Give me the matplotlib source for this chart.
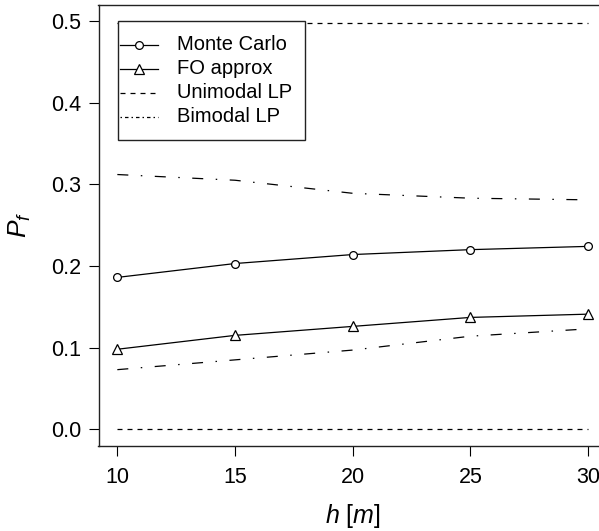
import matplotlib
matplotlib.use("Agg")
import matplotlib.pyplot as plt
from matplotlib.lines import Line2D
from matplotlib.patches import Rectangle

# ---- data ----
h = [10, 15, 20, 25, 30]
monte_carlo = [0.186, 0.203, 0.214, 0.220, 0.224]
fo_approx = [0.098, 0.115, 0.126, 0.137, 0.141]
unimodal_upper = [0.497, 0.497, 0.497, 0.497, 0.497]
unimodal_lower = [0.0, 0.0, 0.0, 0.0, 0.0]
bimodal_upper = [0.312, 0.305, 0.289, 0.283, 0.281]
bimodal_lower = [0.073, 0.085, 0.097, 0.114, 0.123]
x_ticks = [10, 15, 20, 25, 30]
y_ticks = [0.0, 0.1, 0.2, 0.3, 0.4, 0.5]
labels = ["Monte Carlo", "FO approx", "Unimodal LP", "Bimodal LP"]

plt.rcParams['font.family'] = ['Liberation Sans', 'DejaVu Sans']
plt.rcParams['mathtext.fontset'] = 'custom'
plt.rcParams['mathtext.rm'] = 'Liberation Sans'
plt.rcParams['mathtext.it'] = 'Liberation Sans:italic'

W, H = 599, 531
fig = plt.figure(figsize=(W / 100, H / 100), dpi=100)

L, R, T, B = 98.5, 607.0, 4.7, 445.6  # axes box in pixels (from top-left)
ax = fig.add_axes([L / W, 1 - B / H, (R - L) / W, (B - T) / H])

lw = 0.9
ax.plot(h, unimodal_upper, color='black', lw=lw, dashes=(4, 4))
ax.plot(h, unimodal_lower, color='black', lw=lw, dashes=(4, 4))
ax.plot(h, bimodal_upper, color='black', lw=lw, dashes=(8.8, 10, 1.2, 10))
ax.plot(h, bimodal_lower, color='black', lw=lw, dashes=(8.8, 10, 1.2, 10))
ax.plot(h, monte_carlo, color='black', lw=lw, marker='o', ms=5.6,
        mfc='white', mec='black', mew=0.9)
ax.plot(h, fo_approx, color='black', lw=lw, marker='^', ms=7,
        mfc='white', mec='black', mew=0.9)

ax.set_xlim(9.2, 30.8)
ax.set_ylim(-0.02, 0.52)
ax.set_xticks(x_ticks)
ax.set_xticklabels([str(v) for v in x_ticks])
ax.set_yticks(y_ticks)
ax.set_yticklabels([f"{v:.1f}" for v in y_ticks])
ax.tick_params(axis='both', direction='out', length=7.2, width=0.8,
               labelsize=15.5, colors='black')
ax.tick_params(axis='x', pad=8.5)
ax.tick_params(axis='y', pad=5)
for s in ax.spines.values():
    s.set_linewidth(1.0)
    s.set_color('#222222')

ax.set_xlabel(r"$h$ [$m$]", fontsize=18, va='center')
ax.xaxis.set_label_coords(0.5, -(516 - B) / (B - T))
ax.set_ylabel(r"$P_f$", fontsize=19, va='center')
ax.yaxis.set_label_coords(-(L - 20) / (R - L), 0.5)

# ---- legend (R-style box) ----
def fx(px):
    return px / W

def fy(py):
    return 1 - py / H

lx0, lx1, ly0, ly1 = 118.0, 305.0, 21.0, 140.0
fig.patches.append(Rectangle((fx(lx0), fy(ly1)), fx(lx1) - fx(lx0), (ly1 - ly0) / H,
                             transform=fig.transFigure, facecolor='white',
                             edgecolor='#222222', lw=1.0, zorder=5))
rows = [44.5, 68.5, 92.5, 116.5]
styles = [
    dict(marker='o', ms=5.6, mfc='white', mec='black', mew=0.9),
    dict(marker='^', ms=7, mfc='white', mec='black', mew=0.9),
    dict(dashes=(4, 4)),
    dict(dashes=(1.2, 2.4, 2.8, 2.4)),
]
for ry, lab, st in zip(rows, labels, styles):
    fig.add_artist(Line2D([fx(120), fx(158)], [fy(ry), fy(ry)], color='black',
                          lw=lw, transform=fig.transFigure, zorder=6,
                          **{k: v for k, v in st.items() if k == 'dashes'}))
    if 'marker' in st:
        fig.add_artist(Line2D([fx(139)], [fy(ry)], color='black', lw=0,
                              transform=fig.transFigure, zorder=7,
                              **{k: v for k, v in st.items() if k != 'dashes'}))
    fig.text(fx(177), fy(ry), lab, fontsize=14.5, va='center', ha='left',
             color='black', zorder=7)

fig.savefig("out.png", dpi=100)
